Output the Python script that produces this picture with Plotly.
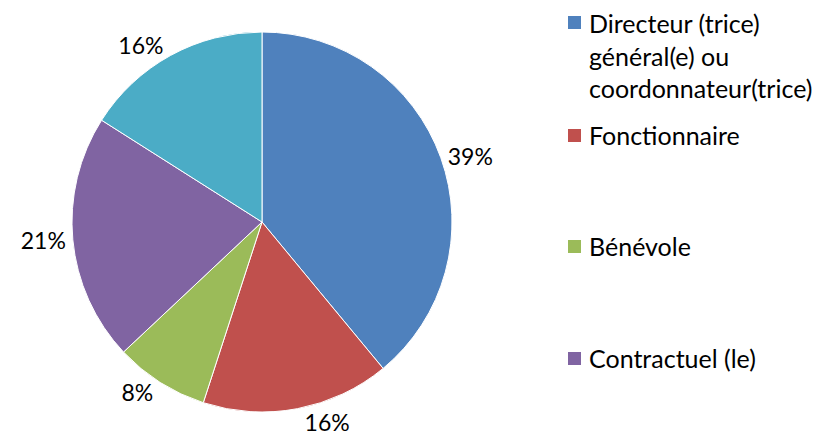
import plotly.graph_objects as go

labels = ["Directeur (trice) général(e) ou coordonnateur(trice)", "Fonctionnaire", "Bénévole", "Contractuel (le)", "Autre"]
legend_text = ["Directeur (trice)<br>général(e) ou<br>coordonnateur(trice)", "Fonctionnaire", "Bénévole", "Contractuel (le)"]
values = [39, 16, 8, 21, 16]
colors = ["#4F81BD", "#C0504D", "#9BBB59", "#8064A2", "#4BACC6"]

W, H = 817, 446
FONT = "Lato"
CX, CY, R = 262, 222, 190


def px(x):
    return x / W


def py(y):
    return 1 - y / H


fig = go.Figure(go.Pie(
    labels=labels, values=values, sort=False, direction="clockwise", rotation=0,
    marker=dict(colors=colors, line=dict(color="white", width=1)),
    texttemplate="%{percent:.0%}", textposition="outside",
    textfont=dict(family=FONT, size=23, color="black"),
    domain=dict(x=[(CX - R) / W, (CX + R) / W], y=[1 - (CY + R) / H, 1 - (CY - R) / H]),
    showlegend=False, hoverinfo="label+percent",
))

square_y = [22, 135, 246, 358]
text_y = [55, 135, 246, 358]
for txt, c, sy, ty in zip(legend_text, colors, square_y, text_y):
    fig.add_shape(type="rect", xref="paper", yref="paper",
                  x0=px(568), x1=px(581), y0=py(sy + 7), y1=py(sy - 6),
                  fillcolor=c, line=dict(width=0))
    fig.add_annotation(xref="paper", yref="paper", x=px(587), y=py(ty),
                       xanchor="left", yanchor="middle", align="left", showarrow=False,
                       text=txt, font=dict(family=FONT, size=25, color="black"))

fig.update_layout(width=W, height=H, margin=dict(l=0, r=0, t=0, b=0),
                  paper_bgcolor="white", plot_bgcolor="white")
fig.write_html("out.html", config={"displayModeBar": False},
               post_script="document.body.style.margin='0';document.body.style.overflow='hidden';")
